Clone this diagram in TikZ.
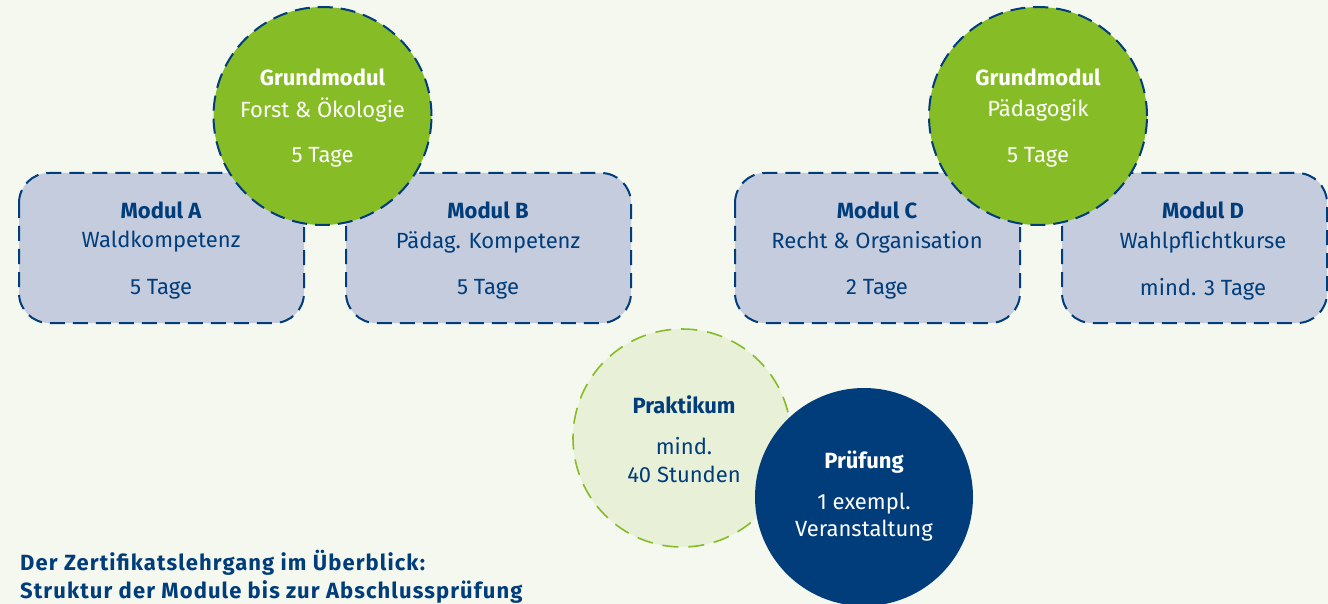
\documentclass[tikz,border=0pt]{standalone}
\usepackage{fontspec}
\setmainfont{Fira Sans}
\newfontfamily\capfont[LetterSpace=5]{Fira Sans}
\definecolor{bg}{HTML}{F4F8EE}
\definecolor{dblue}{HTML}{003D7A}
\definecolor{boxfill}{HTML}{C5CCDE}
\definecolor{lgreen}{HTML}{86BC25}
\definecolor{pale}{HTML}{E8F0D8}
\tikzset{
  modbox/.style={draw=dblue, fill=boxfill, line width=2pt, dash pattern=on 15pt off 8pt, rounded corners=30pt},
  grund/.style={circle, draw=dblue, fill=lgreen, line width=2pt, dash pattern=on 15pt off 8pt, minimum size=218pt, inner sep=0pt},
  prak/.style={circle, draw=lgreen, fill=pale, line width=1.6pt, dash pattern=on 16pt off 10pt, minimum size=218pt, inner sep=0pt},
  pruef/.style={circle, fill=dblue, minimum size=218pt, inner sep=0pt},
  bt/.style={font=\fontsize{22pt}{24pt}\selectfont\bfseries, text=dblue, inner sep=0pt},
  rt/.style={font=\fontsize{22pt}{24pt}\selectfont, text=dblue, inner sep=0pt},
  bw/.style={bt, text=white},
  rw/.style={rt, text=white},
  capt/.style={font=\fontsize{22pt}{24pt}\capfont\bfseries, text=dblue, inner sep=0pt, anchor=west},
}
\begin{document}
\begin{tikzpicture}[x=1pt,y=-1pt]
\fill[bg] (0,0) rectangle (1328,604);
\useasboundingbox (0,0) rectangle (1328,604);
% boxes
\draw[modbox] (19,173) rectangle (304,323);
\draw[modbox] (346,173) rectangle (631,323);
\draw[modbox] (735,173) rectangle (1020,323);
\draw[modbox] (1062,173) rectangle (1327,323);
\node[bt] (aT) at (161,210) {Modul A};
\node[rt] (aS) at (161,242) {Waldkompetenz};
\node[rt] (aD) at (161,289) {5 Tage};
\node[bt] (bT) at (488,210) {Modul B};
\node[rt] (bS) at (488,242) {Pädag. Kompetenz};
\node[rt] (bD) at (488,289) {5 Tage};
\node[bt] (cT) at (877,210) {Modul C};
\node[rt] (cS) at (877,242) {Recht \& Organisation};
\node[rt] (cD) at (877,289) {2 Tage};
\node[bt] (dT) at (1203,210) {Modul D};
\node[rt] (dS) at (1203,242) {Wahlpflichtkurse};
\node[rt] (dD) at (1203,289) {mind. 3 Tage};
% grundmodule
\node[grund] (g1) at (322.5,116) {};
\node[bw] at (322.5,77) {Grundmodul};
\node[rw] at (322.5,110) {Forst \& Ökologie};
\node[rw] at (322.5,157) {5 Tage};
\node[grund] (g2) at (1038,116) {};
\node[bw] at (1038,77) {Grundmodul};
\node[rw] at (1038,110) {Pädagogik};
\node[rw] at (1038,157) {5 Tage};
% praktikum / pruefung
\node[prak] (pk) at (682,438) {};
\node[bt] at (684,405) {Praktikum};
\node[rt] at (684,446) {mind.};
\node[rt] at (684,474) {40 Stunden};
\node[pruef] (pf) at (864,497) {};
\node[bw] at (864,462) {Prüfung};
\node[rw] at (864,504) {1 exempl.};
\node[rw] at (864,531) {Veranstaltung};
% caption
\node[capt] (cap1) at (20,563) {Der Zertifikatslehrgang im Überblick:};
\node[capt] (cap2) at (20,592) {Struktur der Module bis zur Abschlussprüfung};
\end{tikzpicture}
\end{document}
